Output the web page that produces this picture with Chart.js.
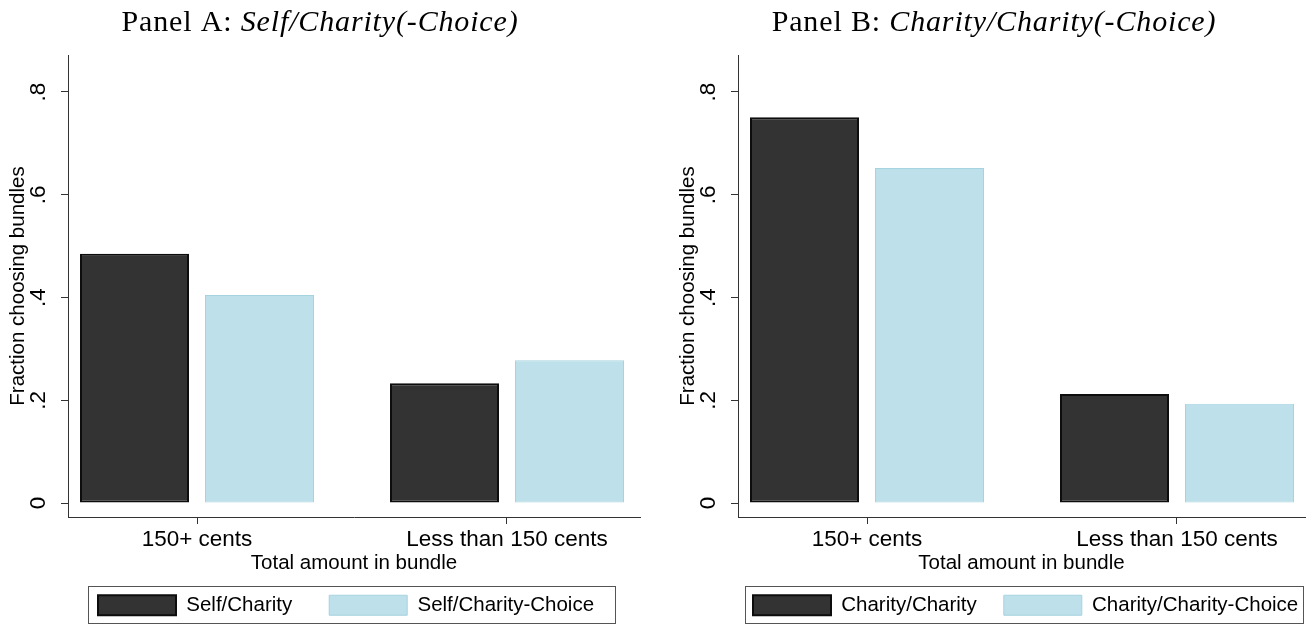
<!DOCTYPE html>
<html>
<head>
<meta charset="utf-8">
<script src="https://cdn.jsdelivr.net/npm/chart.js@4.4.1/dist/chart.umd.min.js"></script>
<style>
  html, body { margin: 0; padding: 0; background: #fff; }
  #wrap { position: relative; width: 1310px; height: 624px; overflow: hidden; background: #fff; }
  canvas { position: absolute; top: 0; }
  #panelA { left: 0; }
  #panelB { left: 670px; }
</style>
</head>
<body>
<div id="wrap">
  <canvas id="panelA" width="660" height="624"></canvas>
  <canvas id="panelB" width="640" height="624"></canvas>
</div>
<script>
// ---- data ----
const categories = ['150+ cents', 'Less than 150 cents'];

const panelASeries = ['Self/Charity', 'Self/Charity-Choice'];
const panelASelfCharity = [0.485, 0.233];
const panelASelfCharityChoice = [0.405, 0.278];

const panelBSeries = ['Charity/Charity', 'Charity/Charity-Choice'];
const panelBCharityCharity = [0.751, 0.212];
const panelBCharityCharityChoice = [0.652, 0.193];

const yTickValues = [0, 0.2, 0.4, 0.6, 0.8];
const yTickLabels = ['0', '.2', '.4', '.6', '.8'];

const xAxisTitle = 'Total amount in bundle';
const yAxisTitle = 'Fraction choosing bundles';

// ---- styling ----
const SANS = "'Liberation Sans', Arial, sans-serif";
const SERIF = "'Liberation Serif', 'Times New Roman', serif";
const DARK = '#333333';
const DARK_EDGE = '#0d0d0d';
const LIGHT = '#bde0ea';
const LIGHT_EDGE = '#a6d3e0';
const AXIS = '#333333';

// pixel layout of the plot region (chart area is 462px tall, 0 sits 14px above the x axis)
const PX_PER_UNIT_Y = 513.75;
const Y_MIN = -14 / PX_PER_UNIT_Y;
const Y_MAX = 448 / PX_PER_UNIT_Y;
const PX_PER_GROUP = 310;
const CAT_PCT = 250 / PX_PER_GROUP;
const BAR_PCT = 0.872;

// Panel heading: upright prefix followed by an italic part
const panelTitlePlugin = {
  id: 'panelTitle',
  afterDraw(chart, args, o) {
    const ctx = chart.ctx;
    ctx.save();
    ctx.fillStyle = '#000';
    ctx.textBaseline = 'alphabetic';
    ctx.textAlign = 'left';
    if ('letterSpacing' in ctx) ctx.letterSpacing = o.spacing + 'px';
    const upright = o.size + 'px ' + SERIF;
    const italic = 'italic ' + o.size + 'px ' + SERIF;
    ctx.font = upright;
    const w1 = ctx.measureText(o.plain).width;
    ctx.font = italic;
    const w2 = ctx.measureText(o.italic).width;
    const x0 = o.x - (w1 + w2) / 2;
    ctx.font = upright;
    ctx.fillText(o.plain, x0, o.baseline);
    ctx.font = italic;
    ctx.fillText(o.italic, x0 + w1, o.baseline);
    ctx.restore();
  }
};

// Legend placement below the axis title, with a framed key box
const legendFramePlugin = {
  id: 'legendFrame',
  afterLayout(chart, args, o) {
    const lg = chart.legend;
    if (!lg || !lg.lineWidths) return;
    const pad = lg.options.labels.padding;
    const w = lg.right - lg.left;
    const left = o.x - (w + pad - lg.lineWidths[0]) / 2;
    lg.left = left;
    lg.right = left + w;
    lg.top = o.swatchTop - pad;
    lg.bottom = chart.height;
  },
  afterDraw(chart, args, o) {
    const ctx = chart.ctx;
    ctx.save();
    ctx.strokeStyle = '#555';
    ctx.lineWidth = 1;
    const [l, t, r, b] = o.frame;
    ctx.strokeRect(l + 0.5, t + 0.5, r - l, b - t);
    ctx.restore();
  }
};

function toPoints(values) {
  return values.map((v, i) => ({ x: i, y: v }));
}

function buildPanel(canvasId, p) {
  const tickFont = { family: SANS, size: 22.5 };
  const titleFont = { family: SANS, size: 20.5 };
  return new Chart(document.getElementById(canvasId), {
    type: 'bar',
    data: {
      datasets: [
        {
          label: p.series[0],
          data: toPoints(p.first),
          backgroundColor: DARK,
          borderColor: DARK_EDGE,
          borderWidth: 2,
          borderSkipped: false,
          inflateAmount: 0,
          categoryPercentage: CAT_PCT,
          barPercentage: BAR_PCT
        },
        {
          label: p.series[1],
          data: toPoints(p.second),
          backgroundColor: LIGHT,
          borderColor: LIGHT_EDGE,
          borderWidth: 1,
          borderSkipped: false,
          inflateAmount: 0,
          categoryPercentage: CAT_PCT,
          barPercentage: BAR_PCT
        }
      ]
    },
    options: {
      responsive: false,
      animation: false,
      events: [],
      layout: { padding: { top: 55, right: p.padRight, bottom: 0, left: 0 } },
      scales: {
        x: {
          type: 'linear',
          min: p.xMin,
          max: p.xMax,
          offset: false,
          afterBuildTicks: s => { s.ticks = categories.map((c, i) => ({ value: i })); },
          afterFit: s => { s.height = 67; },
          ticks: {
            callback: (v, i) => categories[i],
            font: tickFont,
            color: '#000',
            padding: 2,
            maxRotation: 0,
            minRotation: 0,
            autoSkip: false
          },
          grid: { display: true, offset: false, drawOnChartArea: false, drawTicks: true, tickLength: 7, color: AXIS, lineWidth: 1 },
          border: { display: true, color: AXIS, width: 1 },
          title: { display: true, text: xAxisTitle, font: titleFont, color: '#000', padding: { top: 0, bottom: 8.7 } }
        },
        y: {
          type: 'linear',
          min: Y_MIN,
          max: Y_MAX,
          afterBuildTicks: s => { s.ticks = yTickValues.map(v => ({ value: v })); },
          afterFit: s => { s.width = 68; },
          ticks: {
            callback: (v, i) => yTickLabels[i],
            font: tickFont,
            color: '#000',
            minRotation: 90,
            maxRotation: 90,
            crossAlign: 'center',
            padding: 12.6
          },
          grid: { display: true, drawOnChartArea: false, drawTicks: true, tickLength: 7, color: AXIS, lineWidth: 1 },
          border: { display: true, color: AXIS, width: 1 },
          title: { display: true, text: yAxisTitle, font: titleFont, color: '#000', padding: { top: 5.7, bottom: 0 } }
        }
      },
      plugins: {
        tooltip: { enabled: false },
        legend: {
          position: 'bottom',
          maxHeight: 40,
          labels: {
            boxWidth: 78,
            boxHeight: 20,
            padding: p.legendGap,
            font: { family: SANS, size: 20.5 },
            color: '#000'
          }
        },
        panelTitle: { plain: p.titlePlain, italic: p.titleItalic, x: p.titleX, baseline: 31, size: 30, spacing: 0.85 },
        legendFrame: { x: p.legendX, swatchTop: 595, frame: p.legendFrame }
      }
    },
    plugins: [panelTitlePlugin, legendFramePlugin]
  });
}

// chart area runs from x=68 to the right padding; group 0 is centred 129px right of the y axis
buildPanel('panelA', {
  series: panelASeries,
  first: panelASelfCharity,
  second: panelASelfCharityChoice,
  titlePlain: 'Panel A: ',
  titleItalic: 'Self/Charity(-Choice)',
  titleX: 320,
  padRight: 20,
  xMin: -129 / PX_PER_GROUP,
  xMax: (572 - 129) / PX_PER_GROUP,
  legendGap: 37,
  legendX: 98,
  legendFrame: [88, 586, 615, 623]
});

buildPanel('panelB', {
  series: panelBSeries,
  first: panelBCharityCharity,
  second: panelBCharityCharityChoice,
  titlePlain: 'Panel B: ',
  titleItalic: 'Charity/Charity(-Choice)',
  titleX: 324,
  padRight: 5,
  xMin: -129 / PX_PER_GROUP,
  xMax: (567 - 129) / PX_PER_GROUP,
  legendGap: 27,
  legendX: 83,
  legendFrame: [75, 586, 633, 623]
});
</script>
</body>
</html>
